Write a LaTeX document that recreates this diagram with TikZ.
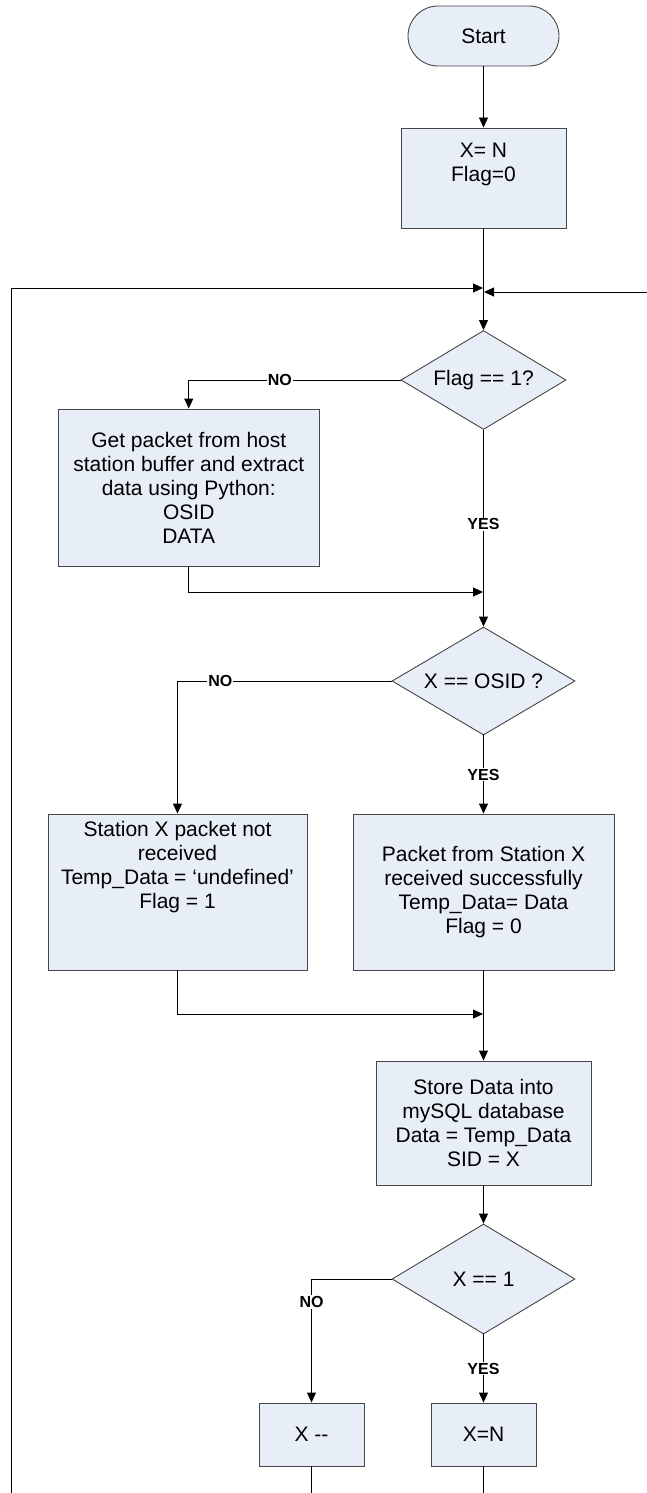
\documentclass[tikz,border=0pt]{standalone}
\usepackage{fontspec}
\setmainfont{Liberation Sans}
\usepackage{tikz}
\usetikzlibrary{shapes,arrows,arrows.meta,positioning}
\definecolor{boxblue}{RGB}{232,238,247}
\definecolor{edgegray}{RGB}{70,70,70}

\begin{document}
\begin{tikzpicture}[line width=0.9pt,
  decision/.style={diamond, draw=edgegray, fill=boxblue, aspect=1.7, inner sep=0pt, align=center, font=\fontsize{21}{24}\selectfont},
  process/.style={rectangle, draw=edgegray, fill=boxblue, inner sep=0pt, align=center, font=\fontsize{21}{24}\selectfont},
  terminal/.style={rectangle, draw=edgegray, fill=boxblue, rounded corners=30pt, minimum width=151pt, minimum height=60pt, font=\fontsize{21}{24}\selectfont},
  answer/.style={fill=white, inner sep=1pt, font=\fontsize{16}{19}\selectfont\bfseries},
  arrow/.style={->,>={Triangle[width=9pt,length=10pt]}}]

  \useasboundingbox (0pt,0pt) rectangle (647pt,-1493pt);

  \node [terminal] (start) at (483.5pt,-36pt) {Start};
  \node [process, minimum width=165pt, minimum height=100pt, below of=start, node distance=142pt] (init) {X= N\\Flag=0\\\strut};
  \node [decision, minimum width=165pt, minimum height=99pt, below of=init, node distance=202pt] (flagchk) {Flag == 1?};
  \node [process, minimum width=261pt, minimum height=157pt, below of=flagchk, node distance=107.5pt, xshift=-294.75pt] (getpkt) {Get packet from host\\station buffer and extract\\data using Python:\\OSID\\DATA};
  \node [decision, minimum width=183pt, minimum height=108pt, below of=flagchk, node distance=301pt] (osidchk) {X == OSID ?};
  \node [process, minimum width=261pt, minimum height=156pt, below of=osidchk, node distance=211pt] (rcvd) {Packet from Station X\\received successfully\\Temp\_Data= Data\\Flag = 0};
  \node [process, minimum width=259pt, minimum height=156pt, left of=rcvd, node distance=306pt] (notrcv) {Station X packet not\\received\\Temp\_Data = ‘undefined’\\Flag = 1\\\strut\\\strut};
  \node [process, minimum width=215pt, minimum height=124pt, below of=rcvd, node distance=231pt] (store) {Store Data into\\mySQL database\\Data = Temp\_Data\\SID = X};
  \node [decision, minimum width=183pt, minimum height=110pt, below of=store, node distance=156pt] (lastchk) {X == 1};
  \node [process, minimum width=105pt, minimum height=63pt, below of=lastchk, node distance=155.5pt] (reset) {X=N};
  \node [process, minimum width=105pt, minimum height=63pt, left of=reset, node distance=172pt] (dec) {X -{}-};

  % merge points and loose ends of the loop
  \coordinate (loopin) at (483pt,-288pt);
  \coordinate (loopin2) at (484pt,-292pt);
  \coordinate (loopfoot) at (11pt,-1493pt);
  \coordinate (loopR) at (647pt,-292pt);
  \coordinate (join1) at (483pt,-592pt);
  \coordinate (join2) at (483pt,-1014pt);
  \coordinate (bottom) at (0pt,-1493pt);

  \draw [arrow] (start) -- (init);
  \draw [arrow] (init) -- (flagchk);
  \draw [arrow] (loopfoot) |- (loopin);
  \draw [arrow] (loopR) -- (loopin2);
  \draw [arrow] (flagchk.west) -| node [answer, pos=0.285] {NO} (getpkt.north);
  \draw [arrow] (flagchk.south) -- node [answer, pos=0.48] {YES} (osidchk.north);
  \draw [arrow] (getpkt.south) |- (join1);
  \draw [arrow] (osidchk.west) -| node [answer, pos=0.4] {NO} (notrcv.north);
  \draw [arrow] (osidchk.south) -- node [answer] {YES} (rcvd.north);
  \draw [arrow] (notrcv.south) |- (join2);
  \draw [arrow] (rcvd.south) -- (store.north);
  \draw [arrow] (store.south) -- (lastchk.north);
  \draw [arrow] (lastchk.west) -| node [answer, pos=0.593] {NO} (dec.north);
  \draw [arrow] (lastchk.south) -- node [answer] {YES} (reset.north);
  \draw (dec.south) -- (dec.south |- bottom);
  \draw (reset.south) -- (reset.south |- bottom);
\end{tikzpicture}
\end{document}
